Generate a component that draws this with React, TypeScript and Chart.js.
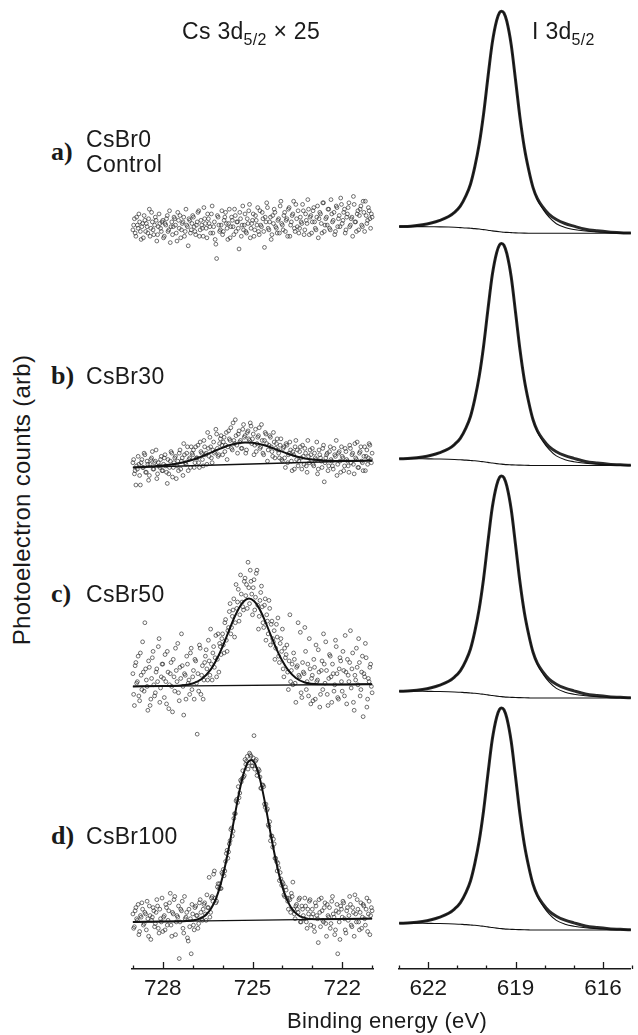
import React, { useEffect, useRef } from 'react';
import { Chart, registerables } from 'chart.js';

Chart.register(...registerables);

// ---------------- data ----------------
// Cs 3d5/2 binding-energy grid (eV), first sweep
const csEnergy = [
  729.0, 728.95, 728.9, 728.85, 728.8, 728.75, 728.7, 728.65, 728.6, 728.55, 728.5, 728.45, 728.4, 728.35, 728.3, 728.25, 728.2, 728.15, 728.1, 728.05,
  728.0, 727.95, 727.9, 727.85, 727.8, 727.75, 727.7, 727.65, 727.6, 727.55, 727.5, 727.45, 727.4, 727.35, 727.3, 727.25, 727.2, 727.15, 727.1, 727.05,
  727.0, 726.95, 726.9, 726.85, 726.8, 726.75, 726.7, 726.65, 726.6, 726.55, 726.5, 726.45, 726.4, 726.35, 726.3, 726.25, 726.2, 726.15, 726.1, 726.05,
  726.0, 725.95, 725.9, 725.85, 725.8, 725.75, 725.7, 725.65, 725.6, 725.55, 725.5, 725.45, 725.4, 725.35, 725.3, 725.25, 725.2, 725.15, 725.1, 725.05,
  725.0, 724.95, 724.9, 724.85, 724.8, 724.75, 724.7, 724.65, 724.6, 724.55, 724.5, 724.45, 724.4, 724.35, 724.3, 724.25, 724.2, 724.15, 724.1, 724.05,
  724.0, 723.95, 723.9, 723.85, 723.8, 723.75, 723.7, 723.65, 723.6, 723.55, 723.5, 723.45, 723.4, 723.35, 723.3, 723.25, 723.2, 723.15, 723.1, 723.05,
  723.0, 722.95, 722.9, 722.85, 722.8, 722.75, 722.7, 722.65, 722.6, 722.55, 722.5, 722.45, 722.4, 722.35, 722.3, 722.25, 722.2, 722.15, 722.1, 722.05,
  722.0, 721.95, 721.9, 721.85, 721.8, 721.75, 721.7, 721.65, 721.6, 721.55, 721.5, 721.45, 721.4, 721.35, 721.3, 721.25, 721.2, 721.15, 721.1, 721.05, 721.0,
];
// second sweep, interleaved energies
const csEnergy2 = [
  728.975, 728.925, 728.875, 728.825, 728.775, 728.725, 728.675, 728.625, 728.575, 728.525, 728.475, 728.425, 728.375, 728.325, 728.275, 728.225, 728.175, 728.125, 728.075, 728.025,
  727.975, 727.925, 727.875, 727.825, 727.775, 727.725, 727.675, 727.625, 727.575, 727.525, 727.475, 727.425, 727.375, 727.325, 727.275, 727.225, 727.175, 727.125, 727.075, 727.025,
  726.975, 726.925, 726.875, 726.825, 726.775, 726.725, 726.675, 726.625, 726.575, 726.525, 726.475, 726.425, 726.375, 726.325, 726.275, 726.225, 726.175, 726.125, 726.075, 726.025,
  725.975, 725.925, 725.875, 725.825, 725.775, 725.725, 725.675, 725.625, 725.575, 725.525, 725.475, 725.425, 725.375, 725.325, 725.275, 725.225, 725.175, 725.125, 725.075, 725.025,
  724.975, 724.925, 724.875, 724.825, 724.775, 724.725, 724.675, 724.625, 724.575, 724.525, 724.475, 724.425, 724.375, 724.325, 724.275, 724.225, 724.175, 724.125, 724.075, 724.025,
  723.975, 723.925, 723.875, 723.825, 723.775, 723.725, 723.675, 723.625, 723.575, 723.525, 723.475, 723.425, 723.375, 723.325, 723.275, 723.225, 723.175, 723.125, 723.075, 723.025,
  722.975, 722.925, 722.875, 722.825, 722.775, 722.725, 722.675, 722.625, 722.575, 722.525, 722.475, 722.425, 722.375, 722.325, 722.275, 722.225, 722.175, 722.125, 722.075, 722.025,
  721.975, 721.925, 721.875, 721.825, 721.775, 721.725, 721.675, 721.625, 721.575, 721.525, 721.475, 721.425, 721.375, 721.325, 721.275, 721.225, 721.175, 721.125, 721.075, 721.025,
];

// Cs 3d5/2 counts (x25), arbitrary units — sweep 1
const csCountsA = [
  -2, 5, -6, 1, 8, -3, 0, -7, 4, 2, -4, 11, -1, 3, -5, 6, -9, 0, 2, -3,
  4, -6, 1, 7, -2, -10, 3, 0, 5, -4, 9, -1, -7, 2, 6, -3, 1, -12, 4, -2,
  7, 0, -5, 3, 10, -2, 1, -6, 5, -1, 8, 2, -4, 13, 0, -8, -20, 6, -3, 1,
  -5, 4, 9, -1, 2, -7, 6, 0, 11, -3, 3, -14, 5, 1, -2, 8, -4, 2, 14, -1,
  4, -6, 7, 1, -3, 10, 0, 5, -13, 3, 12, -2, 6, -5, 2, 9, -1, 4, -4, 16,
  1, 7, -3, 5, 11, -6, 3, 8, -1, 14, 0, -4, 6, 2, 10, -2, 4, 17, -5, 7,
  3, 12, -1, 6, -7, 9, 2, 15, -3, 5, 1, 11, -2, 8, 4, -5, 13, 0, 7, 18,
  2, 9, -4, 6, 12, 0, 5, -6, 14, 3, 8, -2, 11, 1, 16, -3, 7, 4, 10, -1, 6,
];
const csCountsB = [
  3, -4, -11, -1, 2, -11, 5, 0, 8, -3, 2, -5, 5, 10, -1, 4, -7, 3, 0, 7,
  -2, 6, 1, -10, -4, 4, 9, 0, 6, -7, 4, 9, -1, 6, 15, 3, 9, -2, 6, 13,
  8, 0, 13, 6, 3, 16, 9, 1, 13, 9, 22, 7, 13, 3, 16, 10, 21, 7, 15, 20,
  8, 19, 14, 5, 23, 17, 12, 28, 15, 20, 9, 23, 17, 12, 27, 20, 11, 23, 17, 26,
  18, 8, 24, 15, 20, 12, 27, 9, 17, 21, 4, 14, 19, 10, 22, 6, 15, 11, 6, 18,
  4, 13, 0, 14, 8, 16, 4, 10, -1, 17, 11, 4, 13, -1, 7, 12, 1, 17, 3, 8,
  12, 1, 6, 16, -1, 8, 4, 12, -9, 6, 9, 1, 13, 4, -1, 8, 17, 2, 10, -3,
  7, -2, 12, 5, 1, 14, 3, 9, -4, 6, 16, 0, 10, 4, -2, 13, 7, 2, 15, 5, 9,
];
const csCountsC = [
  8, -12, 15, 3, -6, 21, -2, 9, 40, 4, -15, 12, -8, 18, 1, -4, 11, 25, -10, 6,
  14, -7, 3, 22, -14, 8, 0, 17, -3, 10, 27, -9, 5, 13, -18, 7, 19, 2, -5, 24,
  6, -8, 16, -30, -3, 24, 7, -8, 15, 23, 4, 16, 36, 4, 25, 18, 6, 33, 27, 20,
  33, 21, 42, 22, 37, 52, 37, 48, 31, 64, 53, 41, 70, 53, 48, 68, 64, 78, 52, 66,
  45, 67, 56, 73, 36, 54, 63, 40, 51, 29, 41, 54, 26, 41, 28, 17, 39, 43, 15, 30,
  36, 6, 18, 26, -2, 45, 10, 1, 17, -10, 13, 7, 34, -7, 9, 37, -2, 14, 30, -11,
  7, 17, -8, 3, 23, -13, 10, -2, 14, 28, -5, 5, 19, -10, 8, 1, 25, -7, 11, 16,
  -3, 10, 32, -11, 7, 15, -1, 21, -15, 4, 12, 30, -6, 9, -19, 6, 18, -8, 3, 14, -4,
];
const csCountsD = [
  5, -3, 9, 1, -8, 4, 12, -2, 6, -5, 2, 10, -11, 3, 7, -1, 14, -4, 8, 0,
  -6, 4, 11, -2, 7, 18, -9, 5, 16, 0, 3, -23, 8, 13, -7, 2, 6, -12, -3, -20,
  5, -5, 10, 4, -1, 14, 2, 8, 12, 1, 9, 28, 6, 16, 30, 15, 13, 24, 24, 21,
  30, 29, 38, 45, 44, 51, 59, 57, 68, 76, 75, 78, 89, 90, 91, 102, 101, 96, 106, 104,
  98, 117, 101, 92, 96, 91, 84, 86, 74, 74, 71, 60, 51, 54, 52, 40, 38, 37, 26, 27,
  25, 17, 22, 15, 8, 14, 18, 25, 5, 10, 8, 14, 0, 10, 4, 15, 0, 8, 13, -2,
  8, -3, 12, 4, -13, 6, 15, 1, 9, -1, 11, 3, -4, 13, 5, -8, 7, -20, 0, 10,
  3, 12, -5, 7, 1, 16, -2, 9, -9, 5, 14, 0, 6, -4, 11, 2, 8, -6, 13, 4, 7,
];
// sweep 2
const csCountsA2 = [
  1, -4, 6, -1, 3, -8, 2, 7, -3, 0, 5, -6, 9, -2, 1, 4, -5, 8, -1, 3,
  -7, 2, 5, -3, 10, 0, -5, 6, 1, -9, 4, 7, -2, 3, -6, 11, 0, 5, -4, 2,
  6, -3, 1, 9, -6, 4, -1, 12, 2, -7, 5, 0, 8, -4, 3, -11, 7, 1, -2, 10,
  -3, 6, 2, -8, 11, 0, 4, -5, 7, 3, -1, 9, -6, 13, 1, -3, 5, 10, -7, 2,
  8, -2, 4, 12, -5, 1, 9, -3, 6, 15, -1, 3, -8, 7, 11, 0, -4, 5, 13, 2,
  -2, 9, 4, -6, 12, 1, 7, 16, -3, 5, 10, -1, 3, 14, -5, 8, 2, 11, 6, -4,
  10, 3, -2, 13, 5, 8, -4, 15, 1, 6, 11, -1, 17, 3, 9, -3, 12, 5, 0, 14,
  4, 11, -2, 8, 15, 1, 6, 19, 3, -3, 10, 7, 13, 0, 9, 16, 2, 12, 5, 8,
];
const csCountsB2 = [
  5, -2, 1, 7, -5, 3, 0, 9, -3, 4, -8, 2, 6, -1, 3, 11, -4, 1, 5, -2,
  2, 8, -3, 5, 0, 10, -6, 3, 7, 1, -2, 11, 4, -5, 8, 2, 13, 5, 0, 9,
  11, 3, 6, 14, 0, 10, 5, 17, 8, 2, 12, 19, 6, 11, 9, 24, 12, 8, 18, 14,
  16, 10, 22, 13, 18, 25, 11, 17, 30, 14, 21, 16, 12, 24, 19, 9, 22, 18, 28, 15,
  21, 14, 10, 19, 25, 13, 17, 8, 22, 15, 11, 20, 13, 7, 16, 12, 18, 9, 14, 5,
  12, 6, 15, 3, 9, 11, -2, 8, 13, 5, 1, 10, 6, 14, 2, 9, -3, 7, 11, 4,
  2, 9, 5, -4, 11, 6, 0, 14, 3, 8, -2, 10, 5, 1, 12, 7, -5, 9, 4, 13,
  6, 1, 10, 4, -3, 12, 8, 2, 15, 5, 0, 9, 13, 3, 7, -2, 11, 6, 14, 3,
];
const csCountsC2 = [
  -5, 13, 2, 19, -9, 7, 28, -3, 11, 0, 16, -12, 5, 22, -6, 9, 3, 30, -1, 14,
  5, 20, -11, 9, 1, 15, -16, 6, 24, 3, -4, 12, 33, 0, 8, -8, 14, 4, 21, -2,
  10, 17, 2, 8, 26, -5, 13, 4, 19, 11, 29, 7, 14, 21, 12, 32, 17, 9, 25, 30,
  26, 40, 29, 35, 47, 33, 44, 55, 40, 49, 61, 45, 58, 50, 66, 57, 49, 62, 73, 58,
  62, 48, 71, 51, 44, 59, 50, 37, 55, 45, 33, 49, 39, 30, 35, 24, 31, 19, 27, 22,
  11, 24, 20, 9, 16, 3, 14, 21, 2, 12, 40, 6, -4, 15, 8, 22, 3, -6, 11, 5,
  -9, 12, 26, 4, 9, -5, 16, 33, 2, 10, -12, 20, 6, 14, -3, 29, 8, -8, 18, 3,
  22, -6, 9, 17, 3, 35, 11, -10, 7, 24, 1, 15, -2, 19, 8, 27, -13, 5, 12, 0,
];
const csCountsD2 = [
  -4, 7, 2, 11, -6, 3, 8, -1, 5, 13, -9, 4, 1, 9, -3, 6, 10, -7, 2, 15,
  3, -5, 9, 1, 12, -2, 6, 14, -8, 4, 10, 0, 7, -4, 16, 3, -10, 8, 2, 11,
  -2, 9, 4, -4, 12, 6, 1, 11, 5, 17, 9, 3, 15, 13, 32, 12, 22, 21, 21, 31,
  33, 32, 43, 40, 49, 58, 54, 65, 68, 77, 85, 81, 88, 95, 92, 99, 104, 100, 105, 98,
  103, 96, 102, 94, 95, 84, 86, 85, 72, 70, 61, 63, 54, 47, 49, 40, 32, 34, 31, 23,
  24, 16, 20, 13, 15, 6, 16, 8, 2, 11, 6, 15, 0, 8, 2, 10, -4, 5, 14, 3,
  5, -6, 10, 2, 14, -3, 7, 0, 12, -9, 4, 9, -1, 16, 3, -5, 11, 6, -11, 8,
  13, 2, -7, 9, 4, 11, -3, 6, 17, 0, 8, -5, 12, 3, 10, -2, 15, 5, -8, 9,
];

// Cs fitted envelopes (peak + background)
const csFitEnergyB = [729, 728, 727.5, 727, 726.6, 726.2, 725.8, 725.5, 725.25, 725.0, 724.7, 724.3, 723.9, 723.5, 723.0, 722.3, 721];
const csFitB = [0.0, 1.2, 2.5, 4.9, 7.7, 10.9, 13.8, 15.2, 15.7, 15.5, 14.4, 12.0, 9.2, 6.8, 5.0, 4.1, 4.4];
const csFitEnergyC = [729, 728, 727.4, 727.0, 726.7, 726.4, 726.2, 726.0, 725.8, 725.6, 725.45, 725.3, 725.12, 724.95, 724.8, 724.6, 724.4, 724.2, 724.0, 723.8, 723.55, 723.25, 722.8, 722, 721];
const csFitC = [0, 0.2, 0.5, 1.8, 4.6, 10.5, 16.9, 25.0, 34.4, 43.6, 49.3, 53.3, 55.2, 53.6, 49.8, 42.0, 32.7, 23.6, 15.9, 10.0, 5.3, 2.5, 1.3, 1.2, 1.4];
const csFitEnergyD = [729, 728, 727.2, 726.8, 726.6, 726.4, 726.3, 726.2, 726.1, 726.0, 725.9, 725.8, 725.7, 725.6, 725.5, 725.4, 725.3, 725.2, 725.15, 725.05, 724.95, 724.9, 724.8, 724.7, 724.6, 724.5, 724.4, 724.3, 724.2, 724.1, 724.0, 723.9, 723.8, 723.7, 723.5, 723.3, 722.9, 722.0, 721.0];
const csFitD = [0, 0.3, 0.6, 1.8, 3.8, 8.0, 11.4, 15.7, 21.4, 28.4, 36.5, 45.7, 55.8, 66.0, 76.2, 85.4, 93.1, 98.5, 100.3, 101.7, 100.4, 98.6, 93.2, 85.6, 76.5, 66.3, 56.1, 46.1, 37.0, 28.9, 22.0, 16.3, 12.1, 8.7, 4.7, 2.7, 1.7, 1.8, 2.1];
const csBgEnergy = [729, 721];
const csBgB = [0, 4.4];
const csBgC = [0, 1.4];
const csBgD = [0, 2.1];

// I 3d5/2 spectrum (same profile in all four samples)
const iEnergy = [623.0, 622.6, 622.2, 621.9, 621.6, 621.3, 621.1, 620.9, 620.7, 620.55, 620.4, 620.25, 620.1, 619.95, 619.8, 619.65, 619.55, 619.48, 619.4, 619.3, 619.15, 619.0, 618.85, 618.7, 618.55, 618.4, 618.25, 618.05, 617.85, 617.6, 617.3, 617.0, 616.6, 616.2, 615.8, 615.4, 615.0];
const iCounts = [3.0, 3.2, 3.8, 4.6, 5.8, 7.5, 9.4, 12.2, 17.0, 22.0, 29.9, 40.0, 53.5, 70.0, 85.5, 95.5, 99.0, 99.6, 98.8, 95.0, 84.5, 68.5, 52.0, 38.5, 28.5, 20.5, 15.5, 11.5, 8.5, 6.2, 4.4, 3.2, 1.8, 1.1, 0.6, 0.3, 0.1];
const iFit = [3.0, 3.2, 3.8, 4.6, 5.8, 7.5, 9.4, 12.2, 17.0, 22.0, 29.9, 40.0, 53.5, 70.0, 85.5, 95.5, 99.0, 99.6, 98.8, 95.0, 84.5, 68.5, 52.0, 38.5, 28.5, 20.5, 15.0, 10.6, 7.2, 4.3, 2.6, 1.7, 1.0, 0.6, 0.4, 0.2, 0.1];
const iBackground = [3.0, 3.0, 3.0, 2.95, 2.9, 2.8, 2.7, 2.55, 2.4, 2.25, 2.1, 1.9, 1.65, 1.4, 1.1, 0.85, 0.7, 0.6, 0.5, 0.4, 0.3, 0.2, 0.15, 0.1, 0.05, 0, 0, 0, 0, 0, 0, 0, 0, 0, 0, 0, 0];

// axis ticks
const csTickValues = [729, 728, 727, 726, 725, 724, 723, 722, 721];
const csTickLabels = [728, 725, 722];
const iTickValues = [623, 622, 621, 620, 619, 618, 617, 616, 615];
const iTickLabels = [622, 619, 616];

// ---------------- layout / style ----------------
const SANS = '"Liberation Sans", Arial, Helvetica, sans-serif';
const SERIF = '"Liberation Serif", "Times New Roman", Times, serif';
const INK = '#1a1a1a';
const CANVAS_H = 1035;
const AREA_BOTTOM = 969;
const CS_PX_PER_UNIT = 1.6;
const I_PX_PER_UNIT = 2.23;
const CS_ROW_BASE = [223, 465, 685, 921.7];
const I_ROW_BASE = [233.3, 465.5, 698, 930];

const pts = (xs: number[], ys: number[]) => xs.map((x, i) => ({ x, y: ys[i] }));

function rowScale(basePx: number, pxPerUnit: number) {
  return {
    type: 'linear' as const,
    display: false,
    min: -(AREA_BOTTOM - basePx) / pxPerUnit,
    max: basePx / pxPerUnit,
  };
}

const tickMarks = {
  id: 'tickMarks',
  afterDraw(chart: any, _args: any, opts: any) {
    const s = chart.scales.x;
    const ctx = chart.ctx;
    ctx.save();
    ctx.strokeStyle = INK;
    ctx.lineWidth = 1.3;
    for (const v of opts.values as number[]) {
      const px = Math.round(s.getPixelForValue(v)) + 0.5;
      const len = (opts.major as number[]).includes(v) ? 7 : 3.5;
      ctx.beginPath();
      ctx.moveTo(px, s.top);
      ctx.lineTo(px, s.top - len);
      ctx.stroke();
    }
    ctx.restore();
  },
};

function xAxis(min: number, max: number, values: number[], labels: number[]) {
  return {
    type: 'linear' as const,
    reverse: true,
    min,
    max,
    grid: { display: false, drawTicks: false },
    border: { display: true, color: INK, width: 1.5 },
    ticks: {
      autoSkip: false,
      maxRotation: 0,
      padding: 6,
      color: INK,
      font: { family: SANS, size: 22.5 },
      callback: (v: any) => (labels.includes(Number(v)) ? String(v) : ''),
    },
    afterBuildTicks: (scale: any) => {
      scale.ticks = values.map((v) => ({ value: v }));
    },
    afterFit: (scale: any) => {
      scale.height = CANVAS_H - AREA_BOTTOM;
    },
  };
}

function scatterSet(xs: number[], ys: number[], axis: string) {
  return {
    data: pts(xs, ys),
    yAxisID: axis,
    showLine: false,
    pointRadius: 1.9,
    pointBorderWidth: 0.8,
    pointBorderColor: 'rgba(45,45,45,0.85)',
    pointBackgroundColor: 'rgba(255,255,255,0)',
    clip: false as const,
    order: 5,
  };
}

function lineSet(xs: number[], ys: number[], axis: string, width: number, color: string, order: number) {
  return {
    data: pts(xs, ys),
    yAxisID: axis,
    showLine: true,
    pointRadius: 0,
    borderWidth: width,
    borderColor: color,
    backgroundColor: color,
    cubicInterpolationMode: 'monotone' as const,
    fill: false,
    order,
  };
}

function baseOptions(padding: any, x: any, ys: Record<string, any>, ticks: any) {
  return {
    responsive: false,
    maintainAspectRatio: false,
    animation: false as const,
    events: [] as any[],
    layout: { padding },
    plugins: { legend: { display: false }, tooltip: { enabled: false }, tickMarks: ticks },
    scales: { x, ...ys },
  };
}

function CsChart() {
  const ref = useRef<HTMLCanvasElement>(null);
  useEffect(() => {
    if (!ref.current) return;
    const chart = new Chart(ref.current, {
      type: 'scatter',
      data: {
        datasets: [
          lineSet(csBgEnergy, csBgB, 'yB', 1.4, '#111', 1),
          lineSet(csFitEnergyB, csFitB, 'yB', 2, '#111', 0),
          lineSet(csBgEnergy, csBgC, 'yC', 1.4, '#111', 1),
          lineSet(csFitEnergyC, csFitC, 'yC', 2, '#111', 0),
          lineSet(csBgEnergy, csBgD, 'yD', 1.4, '#111', 1),
          lineSet(csFitEnergyD, csFitD, 'yD', 2, '#111', 0),
          scatterSet(csEnergy, csCountsA, 'yA'),
          scatterSet(csEnergy2, csCountsA2, 'yA'),
          scatterSet(csEnergy, csCountsB, 'yB'),
          scatterSet(csEnergy2, csCountsB2, 'yB'),
          scatterSet(csEnergy, csCountsC, 'yC'),
          scatterSet(csEnergy2, csCountsC2, 'yC'),
          scatterSet(csEnergy, csCountsD, 'yD'),
          scatterSet(csEnergy2, csCountsD2, 'yD'),
        ] as any,
      },
      options: baseOptions(
        { left: 20.7, right: 11.7, top: 0, bottom: 0 },
        xAxis(720.96, 729.04, csTickValues, csTickLabels),
        {
          yA: rowScale(CS_ROW_BASE[0], CS_PX_PER_UNIT),
          yB: rowScale(CS_ROW_BASE[1], CS_PX_PER_UNIT),
          yC: rowScale(CS_ROW_BASE[2], CS_PX_PER_UNIT),
          yD: rowScale(CS_ROW_BASE[3], CS_PX_PER_UNIT),
        },
        { values: csTickValues, major: csTickLabels }
      ) as any,
      plugins: [tickMarks],
    });
    return () => chart.destroy();
  }, []);
  return (
    <canvas
      ref={ref}
      width={274}
      height={CANVAS_H}
      style={{ position: 'absolute', left: 111, top: 0, width: 274, height: CANVAS_H }}
    />
  );
}

function IChart() {
  const ref = useRef<HTMLCanvasElement>(null);
  useEffect(() => {
    if (!ref.current) return;
    const rows = ['yA', 'yB', 'yC', 'yD'];
    const datasets: any[] = [];
    rows.forEach((id) => {
      datasets.push(lineSet(iEnergy, iBackground, id, 1.1, '#111', 0));
      datasets.push(lineSet(iEnergy, iFit, id, 1.1, '#111', 1));
      datasets.push(lineSet(iEnergy, iCounts, id, 3, '#2a2a2a', 2));
    });
    const ys: Record<string, any> = {};
    rows.forEach((id, r) => {
      ys[id] = rowScale(I_ROW_BASE[r], I_PX_PER_UNIT);
    });
    const chart = new Chart(ref.current, {
      type: 'scatter',
      data: { datasets },
      options: baseOptions(
        { left: 12.3, right: 0, top: 0, bottom: 0 },
        xAxis(615.04, 623.03, iTickValues, iTickLabels),
        ys,
        { values: iTickValues, major: iTickLabels }
      ) as any,
      plugins: [tickMarks],
    });
    return () => chart.destroy();
  }, []);
  return (
    <canvas
      ref={ref}
      width={252}
      height={CANVAS_H}
      style={{ position: 'absolute', left: 386, top: 0, width: 252, height: CANVAS_H }}
    />
  );
}

const Txt = ({ x, y, font, center, spacing = 0.3, children }: any) => (
  <div
    style={{
      position: 'absolute',
      left: x,
      top: y,
      transform: center ? 'translate(-50%, -50%)' : 'translateY(-50%)',
      font,
      lineHeight: 1,
      letterSpacing: spacing,
      whiteSpace: 'nowrap',
      color: INK,
    }}
  >
    {children}
  </div>
);

const SUB = { fontSize: 16, position: 'relative' as const, top: 6 };
const LABEL_FONT = `23px ${SANS}`;
const TITLE_FONT = `22px ${SANS}`;
const LETTER_FONT = `bold 26px ${SERIF}`;

export default function App() {
  return (
    <div style={{ position: 'absolute', left: 0, top: 0, width: 638, height: 1035, background: '#fff', overflow: 'hidden' }}>
      <CsChart />
      <IChart />

      <Txt x={251} y={31} font={LABEL_FONT} center>
        Cs 3d<span style={SUB}>5/2</span> × 25
      </Txt>
      <Txt x={532} y={31} font={LABEL_FONT}>
        I 3d<span style={SUB}>5/2</span>
      </Txt>

      <Txt x={51} y={152} font={LETTER_FONT} spacing={0}>a)</Txt>
      <Txt x={86} y={139} font={LABEL_FONT}>CsBr0</Txt>
      <Txt x={86} y={164} font={LABEL_FONT}>Control</Txt>

      <Txt x={51} y={376} font={LETTER_FONT} spacing={0}>b)</Txt>
      <Txt x={86} y={376} font={LABEL_FONT}>CsBr30</Txt>

      <Txt x={51} y={594} font={LETTER_FONT} spacing={0}>c)</Txt>
      <Txt x={86} y={594} font={LABEL_FONT}>CsBr50</Txt>

      <Txt x={51} y={836} font={LETTER_FONT} spacing={0}>d)</Txt>
      <Txt x={86} y={836} font={LABEL_FONT}>CsBr100</Txt>

      <Txt x={287} y={1021} font={TITLE_FONT}>Binding energy (eV)</Txt>

      <div
        style={{
          position: 'absolute',
          left: 22,
          top: 500,
          transform: 'translate(-50%, -50%) rotate(-90deg)',
          font: `24px ${SANS}`,
          lineHeight: 1,
          letterSpacing: 0.3,
          whiteSpace: 'nowrap',
          color: INK,
        }}
      >
        Photoelectron counts (arb)
      </div>
    </div>
  );
}
